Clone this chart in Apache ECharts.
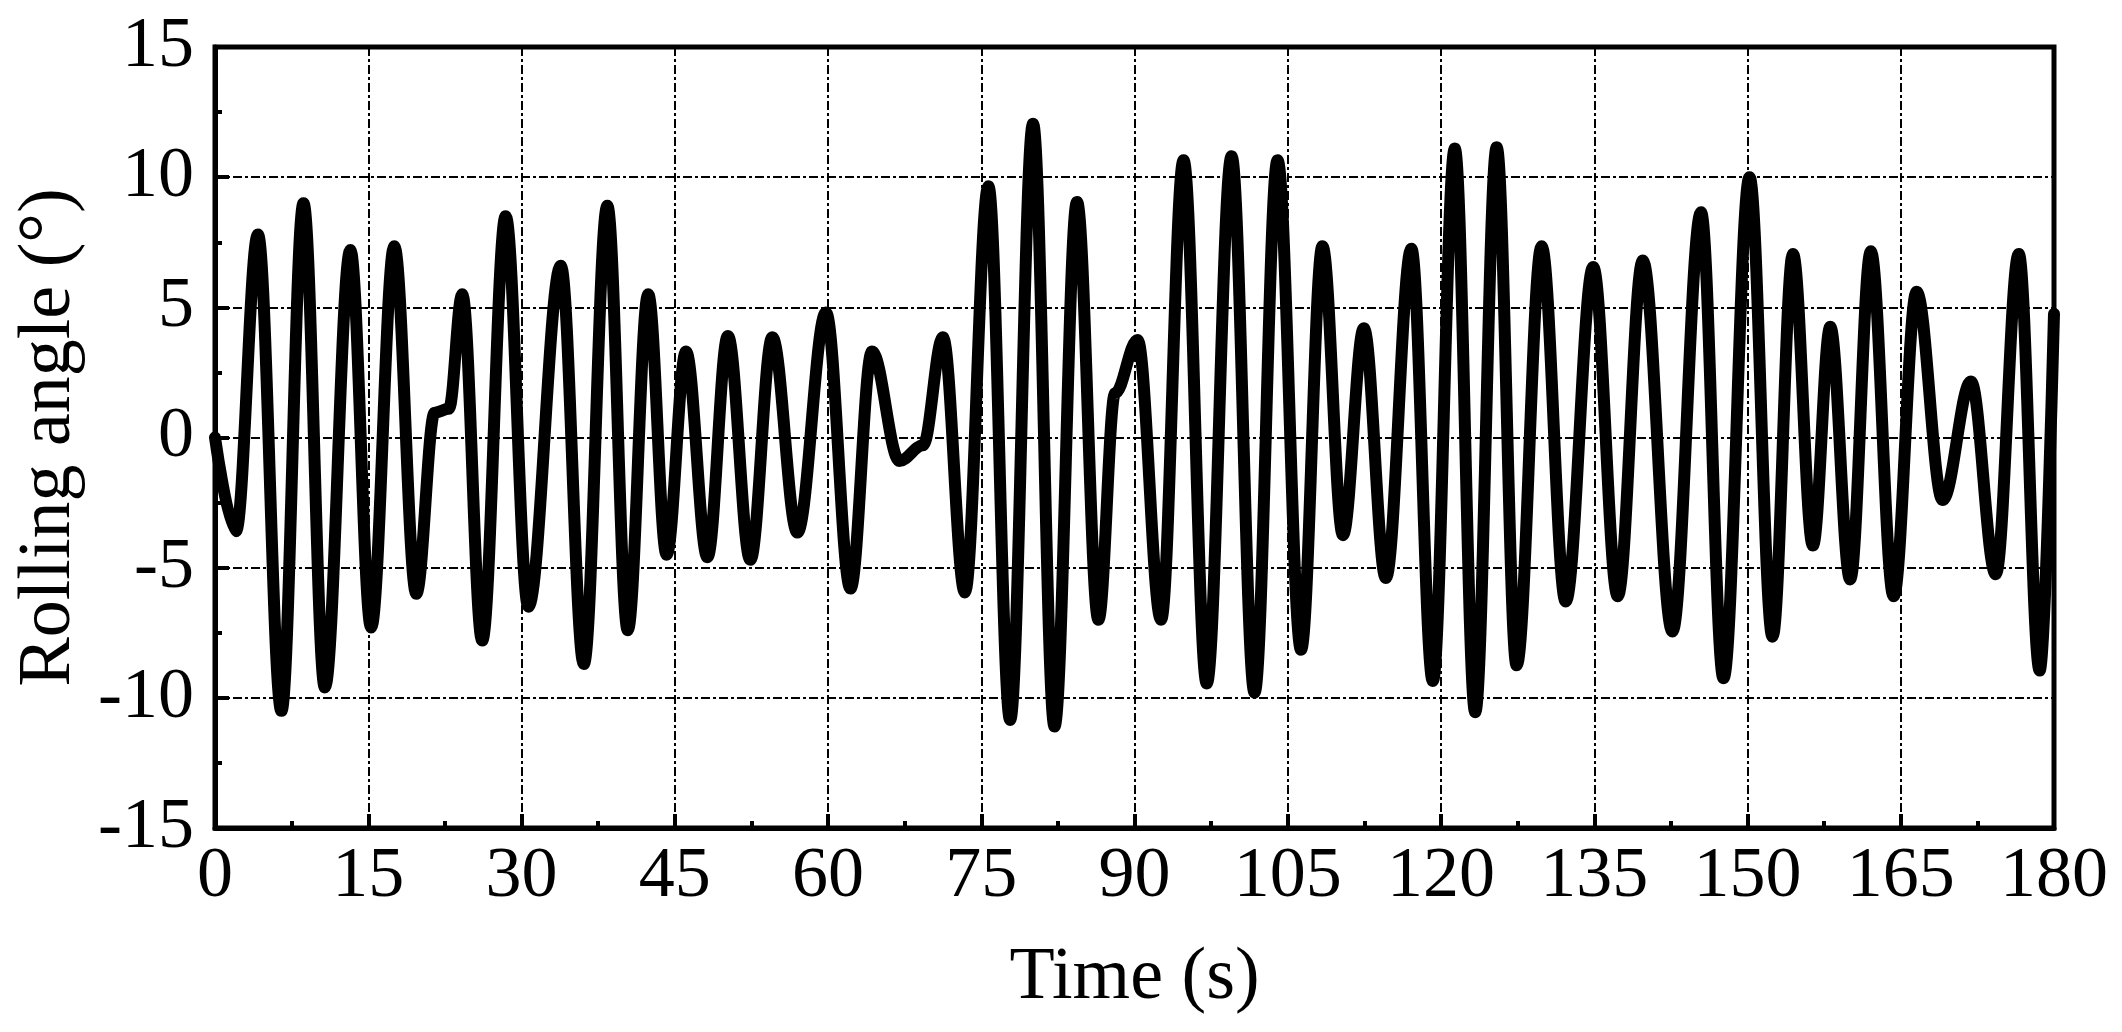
<!DOCTYPE html>
<html>
<head>
<meta charset="utf-8">
<script src="https://cdn.jsdelivr.net/npm/echarts@6/dist/echarts.min.js"></script>
<style>
html,body{margin:0;padding:0;background:#fff;}
#chart{width:2122px;height:1032px;}
</style>
</head>
<body>
<div id="chart"></div>
<script>
// Time (s) of the data points (extrema and shoulders)
const timeS = [0, 2.05, 4.2, 6.5, 8.66, 10.75, 13.25, 15.28, 17.55, 19.7, 21.5, 22.9, 24.2, 26.15, 28.45, 30.67, 33.85, 36.1, 38.4, 40.4, 42.4, 44.2, 46.1, 48.2, 50.2, 52.4, 54.55, 57.0, 59.8, 62.2, 64.3, 67.0, 69.3, 71.25, 73.4, 75.7, 77.83, 80.07, 82.17, 84.37, 86.47, 88.1, 90.3, 92.6, 94.8, 97.07, 99.5, 101.75, 104.0, 106.3, 108.4, 110.4, 112.45, 114.6, 117.1, 119.2, 121.35, 123.35, 125.45, 127.4, 129.85, 132.2, 134.9, 137.3, 139.75, 142.65, 145.45, 147.65, 150.2, 152.45, 154.45, 156.4, 158.1, 160.05, 162.07, 164.3, 166.55, 169.1, 171.87, 174.3, 176.55, 178.6, 180];
// Rolling angle (deg)
const rollDeg = [0, -3.6, 7.8, -10.5, 9.0, -9.6, 7.2, -7.3, 7.35, -6.0, 0.95, 1.1, 5.5, -7.8, 8.5, -6.5, 6.6, -8.7, 8.9, -7.4, 5.5, -4.5, 3.3, -4.6, 3.9, -4.7, 3.85, -3.65, 4.8, -5.8, 3.3, -0.9, -0.3, 3.85, -5.95, 9.65, -10.85, 12.05, -11.1, 9.05, -7.0, 1.7, 3.75, -7.0, 10.65, -9.45, 10.8, -9.8, 10.65, -8.15, 7.35, -3.75, 4.2, -5.4, 7.25, -9.35, 11.1, -10.55, 11.15, -8.75, 7.35, -6.3, 6.55, -6.1, 6.8, -7.45, 8.65, -9.25, 10.0, -7.65, 7.05, -4.15, 4.25, -5.45, 7.15, -6.1, 5.6, -2.4, 2.15, -5.25, 7.05, -8.95, 4.75];

const xRange = [0, 180, 15];
const yRange = [-15, 15, 5];
const xTitle = 'Time (s)';
const yTitle = 'Rolling angle (°)';

const FONT = "'Liberation Serif', 'Times New Roman', serif";
const seriesData = timeS.map((t, i) => [t, rollDeg[i]]);

const gridLine = { show: true, lineStyle: { color: '#000', width: 2, type: [9, 3, 3, 3] } };

const chart = echarts.init(document.getElementById('chart'), null, { renderer: 'canvas' });
chart.setOption({
  animation: false,
  backgroundColor: '#fff',
  grid: {
    left: 215, right: 68, top: 47, bottom: 204,
    containLabel: false,
    outerBoundsMode: 'none',
    show: true, borderColor: '#000', borderWidth: 5, backgroundColor: 'transparent'
  },
  xAxis: {
    type: 'value',
    min: xRange[0], max: xRange[1], interval: xRange[2],
    name: xTitle, nameLocation: 'middle', nameGap: 114,
    nameTextStyle: { fontFamily: FONT, fontSize: 74, color: '#000' },
    axisLine: { show: true, onZero: false, lineStyle: { color: '#000', width: 5 } },
    axisTick: { show: true, inside: true, length: 14, lineStyle: { color: '#000', width: 4 } },
    minorTick: { show: true, splitNumber: 2, length: 7, lineStyle: { color: '#000', width: 4 } },
    axisLabel: { fontFamily: FONT, fontSize: 72, color: '#000', margin: 13 },
    splitLine: gridLine
  },
  yAxis: {
    type: 'value',
    min: yRange[0], max: yRange[1], interval: yRange[2],
    name: yTitle, nameLocation: 'middle', nameGap: 128,
    nameTextStyle: { fontFamily: FONT, fontSize: 74, color: '#000' },
    axisLine: { show: true, onZero: false, lineStyle: { color: '#000', width: 5 } },
    axisTick: { show: true, inside: true, length: 14, lineStyle: { color: '#000', width: 4 } },
    minorTick: { show: true, splitNumber: 2, length: 7, lineStyle: { color: '#000', width: 4 } },
    axisLabel: { fontFamily: FONT, fontSize: 72, color: '#000', margin: 21 },
    splitLine: gridLine
  },
  series: [{
    type: 'line',
    data: seriesData,
    showSymbol: false,
    smooth: 0.36,
    smoothMonotone: 'x',
    clip: true,
    lineStyle: { color: '#000', width: 12, cap: 'round', join: 'round' }
  }]
});
</script>
</body>
</html>
